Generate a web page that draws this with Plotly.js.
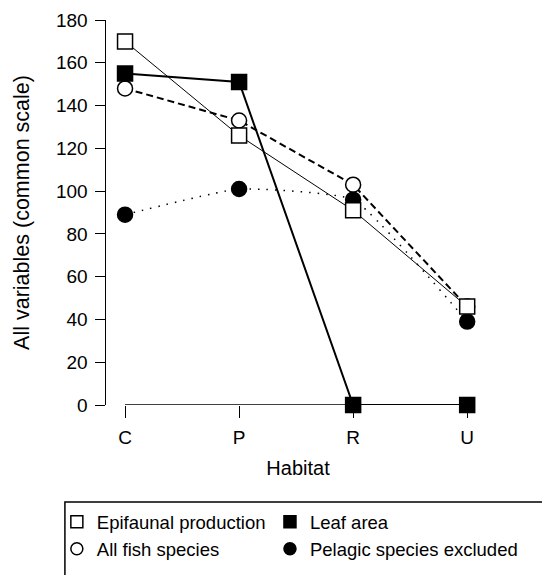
<!DOCTYPE html>
<html><head><meta charset="utf-8">
<script src="https://cdn.plot.ly/plotly-3.0.1.min.js"></script>
<style>html,body{margin:0;padding:0;background:#fff}#chart{width:542px;height:575px}</style>
</head><body><div id="chart"></div>
<script>
const habitats = ['C', 'P', 'R', 'U'];
const epifaunal = [170, 126, 91, 46];
const leafArea = [155, 151, 0, 0];
const allFish = [148, 133, 103, 46];
const pelagicExcl = [89, 101, 96, 39];
const yTicks = [0, 20, 40, 60, 80, 100, 120, 140, 160, 180];

const xIdx = habitats.map((_, i) => i);
const F = 'Liberation Sans, Arial, Helvetica, sans-serif';

function fillOf(open) { return open ? '#fff' : '#000'; }
function tr(name, y, symbol, open, dash, width, shape) {
  return {x: xIdx, y: y, name: name, mode: 'lines+markers', cliponaxis: false, showlegend: false,
    line: {color: '#000', width: width, dash: dash, shape: shape || 'linear', smoothing: 0.4},
    marker: {symbol: symbol, size: 15, color: fillOf(open), line: {color: '#000', width: 1.5}}};
}
function lg(name, symbol, open, legend) {
  return {x: [null], y: [null], name: name, mode: 'markers', showlegend: true, legend: legend,
    marker: {symbol: symbol, size: 12, color: fillOf(open), line: {color: '#000', width: 1.5}}};
}
const data = [
  tr('All fish species', allFish, 'circle', true, '7px,4px', 2),
  tr('Pelagic species excluded', pelagicExcl, 'circle', false, '1.5px,7px', 1.5, 'spline'),
  tr('Epifaunal production', epifaunal, 'square', true, 'solid', 1),
  tr('Leaf area', leafArea, 'square', false, 'solid', 2),
  lg('Epifaunal production', 'square', true, 'legend'),
  lg('All fish species', 'circle', true, 'legend'),
  lg('Leaf area', 'square', false, 'legend2'),
  lg('Pelagic species excluded', 'circle', false, 'legend2')
];
const legBase = {orientation: 'v', xanchor: 'left', yanchor: 'top', borderwidth: 0,
  bgcolor: 'rgba(0,0,0,0)', font: {size: 18.5}, traceorder: 'normal', tracegroupgap: 0};
const layout = {
  width: 542, height: 575,
  margin: {l: 106, r: 52, t: 20, b: 170, autoexpand: false},
  paper_bgcolor: '#fff', plot_bgcolor: '#fff',
  font: {family: F, size: 18, color: '#000'},
  xaxis: {range: [-0.167, 3.2], tickvals: xIdx, ticktext: habitats, ticks: 'outside', ticklen: 12,
    tickwidth: 1, tickcolor: '#000', showline: false, showgrid: false, zeroline: false, automargin: false,
    ticklabelstandoff: 3,
    tickfont: {size: 19}, title: {text: 'Habitat', font: {size: 20}, standoff: 14}},
  yaxis: {range: [0, 180], tickvals: yTicks, ticks: 'outside', ticklen: 10, tickwidth: 1, automargin: false,
    tickcolor: '#000', showline: true, linecolor: '#000', linewidth: 1.5, showgrid: false, zeroline: false,
    ticklabelstandoff: 3,
    tickfont: {size: 19}, title: {text: 'All variables (common scale)', font: {size: 21.5}, standoff: 20}},
  shapes: [
    {type: 'line', xref: 'x', yref: 'y', x0: 0, x1: 3, y0: 0, y1: 0, line: {color: '#000', width: 1.5}},
    {type: 'rect', xref: 'paper', yref: 'paper', x0: -0.107, x1: 1.2, y0: -0.252, y1: -0.5, line: {color: '#000', width: 1.5}}
  ],
  legend: Object.assign({}, legBase, {x: -0.128, y: -0.255}),
  legend2: Object.assign({}, legBase, {x: 0.427, y: -0.255}),
  showlegend: true
};
Plotly.newPlot('chart', data, layout, {displayModeBar: false, staticPlot: true});
</script></body></html>
